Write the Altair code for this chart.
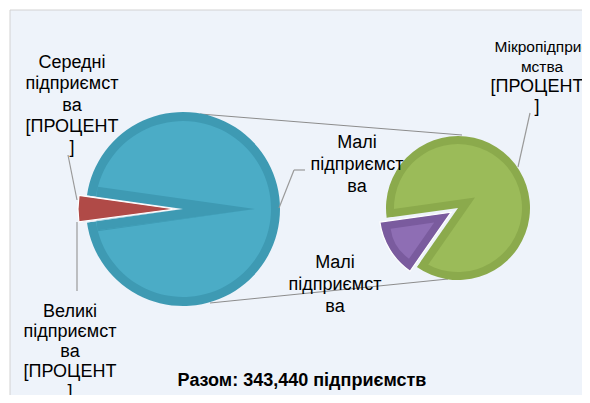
import math
import altair as alt
import pandas as pd

# ---------------- data ----------------
size_groups = ["Великі підприємства", "Середні підприємства", "Малі підприємства", "Мікропідприємства"]
counts = [400, 15000, 43000, 285040]          # estimated split, total 343,440
total = sum(counts)

left_slices = ["Великі підприємства", "Середні підприємства", "Малі підприємства (разом)"]
left_values = [counts[0], counts[1], counts[2] + counts[3]]
right_slices = ["Малі підприємства", "Мікропідприємства"]
right_values = [counts[2], counts[3]]

label_sered = "Середні\nпідприємст\nва\n[ПРОЦЕНТ\n]"
label_velyki = "Великі\nпідприємст\nва\n[ПРОЦЕНТ\n]"
label_mali = "Малі\nпідприємст\nва"
label_mikro_a = "Мікропідприє\nмства"
label_mikro_b = "[ПРОЦЕНТ\n]"
title_text = f"Разом: {total:,} підприємств"

# ---------------- styles / layout ----------------
BG = "#EEF3FA"
FONT = "Liberation Sans"
BLUE, BLUE_D = "#4BACC6", "#3E9AB3"
RED = "#B04A47"
GREEN, GREEN_D = "#9BBB59", "#8BAA4C"
PURP, PURP_L = "#7A5B9E", "#8E6EB4"
W, H = 574, 387

df_left = pd.DataFrame({"slice": left_slices, "value": left_values, "order": [0, 1, 2]})
df_right = pd.DataFrame({"slice": right_slices, "value": right_values, "order": [0, 1]})
one = pd.DataFrame({"a": [0]})

left_total = sum(left_values)
right_total = sum(right_values)
LEFT_START = 270 - 180 * (left_values[0] + left_values[1]) / left_total
RIGHT_START = 238.5 - 180 * right_values[0] / right_total


def arc(df, tot, start_deg, cx, cy, radius, color, keep, **kw):
    s = math.radians(start_deg)
    return (
        alt.Chart(df)
        .transform_stack(stack="value", groupby=[], as_=["v0", "v1"],
                         sort=[alt.SortField("order", order="ascending")])
        .transform_filter(alt.FieldOneOfPredicate(field="slice", oneOf=keep))
        .mark_arc(radius=radius, color=color, **kw)
        .encode(
            theta=alt.Theta("v0:Q", scale=alt.Scale(domain=[0, tot], range=[s, s + 2 * math.pi], nice=False)),
            theta2="v1:Q",
            x=alt.value(cx), y=alt.value(cy),
        )
    )


def seg(x1, y1, x2, y2, color="#8C8C8C", w=1.0):
    return alt.Chart(one).mark_rule(color=color, strokeWidth=w).encode(
        x=alt.value(x1), y=alt.value(y1), x2=alt.value(x2), y2=alt.value(y2))


def txt(t, x, y, size=18, lh=21, bold=False):
    # y is the centre of the first line
    return alt.Chart(one).mark_text(
        text=t, lineBreak="\n", lineHeight=lh, font=FONT, fontSize=size,
        fontWeight="bold" if bold else "normal", color="#000000",
        align="center", baseline="middle",
    ).encode(x=alt.value(x), y=alt.value(y))


bg = alt.Chart(one).mark_rect(fill=BG, strokeWidth=0).encode(
    x=alt.value(2), y=alt.value(2), x2=alt.value(W), y2=alt.value(H))
borders = [
    alt.Chart(one).mark_rule(color="#D2D2D2", strokeWidth=1).encode(
        x=alt.value(2), y=alt.value(2), x2=alt.value(W), y2=alt.value(2)),
    alt.Chart(one).mark_rule(color="#D2D2D2", strokeWidth=1).encode(
        x=alt.value(2), y=alt.value(2), x2=alt.value(2), y2=alt.value(H)),
]

gapL = left_slices[:2]
restL = [left_slices[2]]
LCX, LCY = 175, 201
left_layers = [
    arc(df_left, left_total, LEFT_START, LCX, LCY, 97, BLUE_D, restL),
    arc(df_left, left_total, LEFT_START, LCX, LCY, 88, BLUE, restL),
    arc(df_left, left_total, LEFT_START, LCX + 72, LCY, 159, BLUE_D, gapL),
    arc(df_left, left_total, LEFT_START, LCX, LCY, 100, BG, gapL),
    arc(df_left, left_total, LEFT_START, LCX - 8, LCY, 97, RED, [left_slices[1]],
        stroke="white", strokeWidth=1.2),
]

RCX, RCY = 450, 200
right_layers = [
    arc(df_right, right_total, RIGHT_START, RCX, RCY, 72, GREEN_D, [right_slices[1]]),
    arc(df_right, right_total, RIGHT_START, RCX, RCY, 64, GREEN, [right_slices[1]]),
    arc(df_right, right_total, RIGHT_START, RCX + 17, RCY - 10.4, 84, GREEN_D, [right_slices[0]]),
    arc(df_right, right_total, RIGHT_START, RCX, RCY, 75, BG, [right_slices[0]]),
    arc(df_right, right_total, RIGHT_START, RCX - 6.8, RCY + 4.2, 72, PURP, [right_slices[0]],
        stroke="white", strokeWidth=1.2),
    arc(df_right, right_total, RIGHT_START, RCX - 23.8, RCY + 14.6, 44, PURP_L, [right_slices[0]]),
]

lines = [
    seg(192, 106, 454, 127),
    seg(202, 295, 440, 271),
]
leaders = [
    seg(60, 147, 69, 192, "#9A9A9A", 1.2),
    seg(69, 214, 69, 283, "#9A9A9A", 1.2),
    seg(271, 200, 286, 162, "#9A9A9A", 1.2),
    seg(286, 162, 297, 162, "#9A9A9A", 1.2),
    seg(510, 159, 522, 105, "#9A9A9A", 1.2),
]
texts = [
    txt(label_sered, 64, 55, 18, 21.3),
    txt(label_velyki, 62, 304, 18, 20),
    txt(label_mali, 349, 135, 18, 22),
    txt(label_mali, 327, 255, 18, 22),
    txt(label_mikro_a, 534, 39, 15.5, 20),
    txt(label_mikro_b, 529, 79, 18, 20),
    txt(title_text, 294, 373, 18, 20, bold=True),
]

chart = (
    alt.layer(bg, *borders, *lines, *left_layers, *right_layers, *leaders, *texts)
    .resolve_scale(theta="independent")
    .properties(width=W, height=H, padding=0, autosize="none", background="white")
    .configure_view(strokeWidth=0)
)

chart.save("out.html", embed_options={"renderer": "svg", "actions": False})
